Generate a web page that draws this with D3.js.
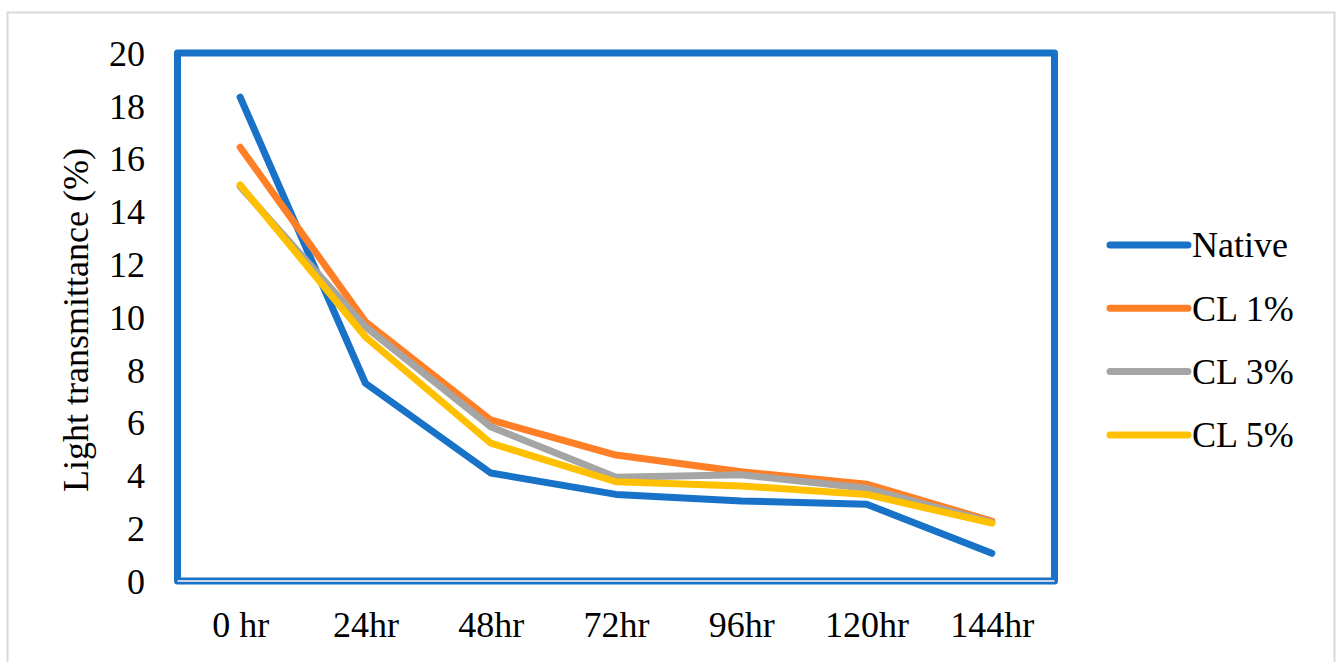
<!DOCTYPE html>
<html>
<head>
<meta charset="utf-8">
<script src="https://cdn.jsdelivr.net/npm/d3@7"></script>
<style>
  html, body { margin: 0; padding: 0; background: #fff; }
  svg { display: block; }
  text { font-family: "Liberation Serif", "Times New Roman", serif; fill: #000; }
</style>
</head>
<body>
<svg id="chart" width="1338" height="662"></svg>
<script>
// Time points and light transmittance (%) per group
const categories = ["0 hr", "24hr", "48hr", "72hr", "96hr", "120hr", "144hr"];
const native = [18.33, 7.49, 4.09, 3.28, 3.03, 2.91, 1.05];
const cl1 = [16.43, 9.82, 6.10, 4.77, 4.14, 3.67, 2.27];
const cl3 = [14.94, 9.63, 5.84, 3.93, 4.02, 3.51, 2.22];
const cl5 = [15.00, 9.25, 5.22, 3.76, 3.60, 3.28, 2.19];
const seriesNames = ["Native", "CL 1%", "CL 3%", "CL 5%"];
const seriesColors = ["#1872c8", "#ff7f27", "#a5a5a5", "#ffc000"];
const yTicks = [0, 2, 4, 6, 8, 10, 12, 14, 16, 18, 20];

const series = [native, cl1, cl3, cl5].map((values, i) => ({
  name: seriesNames[i], color: seriesColors[i], values
}));

const svg = d3.select("#chart");

// Outer chart frame
svg.append("rect")
  .attr("x", 7.5).attr("y", 12.5)
  .attr("width", 1327).attr("height", 700)
  .attr("fill", "none").attr("stroke", "#d9d9d9").attr("stroke-width", 2);

const plot = { left: 177.5, right: 1054.5, top: 53, bottom: 581 };

const x = d3.scalePoint().domain(categories)
  .range([plot.left, plot.right]).padding(0.5);
const y = d3.scaleLinear().domain([0, 20]).range([plot.bottom, plot.top]);

// Plot area border
svg.append("rect")
  .attr("x", plot.left).attr("y", plot.top)
  .attr("width", plot.right - plot.left).attr("height", plot.bottom - plot.top)
  .attr("fill", "none").attr("stroke", "#1872c8").attr("stroke-width", 7)
  .attr("stroke-linejoin", "round");

// Category axis line
svg.append("line")
  .attr("x1", plot.left).attr("x2", plot.right)
  .attr("y1", y(0)).attr("y2", y(0))
  .attr("stroke", "#c9d6e6").attr("stroke-width", 2);

// Y axis labels
const yAxis = d3.axisLeft(y).tickValues(yTicks).tickSize(0).tickPadding(0);
const yg = svg.append("g").attr("transform", "translate(145,0)").call(yAxis);
yg.select(".domain").remove();
yg.selectAll("text")
  .attr("font-size", 36)
  .attr("font-family", "Liberation Serif, Times New Roman, serif")
  .attr("dy", "0.34em");

// X axis labels
const xAxis = d3.axisBottom(x).tickSize(0).tickPadding(0);
const xg = svg.append("g").attr("transform", "translate(0,611)").call(xAxis);
xg.select(".domain").remove();
xg.selectAll("text")
  .attr("font-size", 36)
  .attr("font-family", "Liberation Serif, Times New Roman, serif")
  .attr("dy", "0.71em");

// Y axis title
svg.append("text")
  .attr("transform", "translate(88,320) rotate(-90)")
  .attr("text-anchor", "middle")
  .attr("font-size", 36)
  .text("Light transmittance (%)");

// Series lines
const line = d3.line()
  .x((d, i) => x(categories[i]))
  .y(d => y(d));

svg.append("g").selectAll("path")
  .data(series)
  .join("path")
  .attr("d", d => line(d.values))
  .attr("fill", "none")
  .attr("stroke", d => d.color)
  .attr("stroke-width", 7)
  .attr("stroke-linecap", "round")
  .attr("stroke-linejoin", "round");

// Legend
const legend = svg.append("g");
const items = legend.selectAll("g")
  .data(series)
  .join("g")
  .attr("transform", (d, i) => `translate(1110,${245 + i * 63.3})`);
items.append("line")
  .attr("x1", 0).attr("x2", 78)
  .attr("stroke", d => d.color)
  .attr("stroke-width", 7)
  .attr("stroke-linecap", "round");
items.append("text")
  .attr("x", 82)
  .attr("dy", "0.34em")
  .attr("font-size", 36)
  .text(d => d.name);
</script>
</body>
</html>
